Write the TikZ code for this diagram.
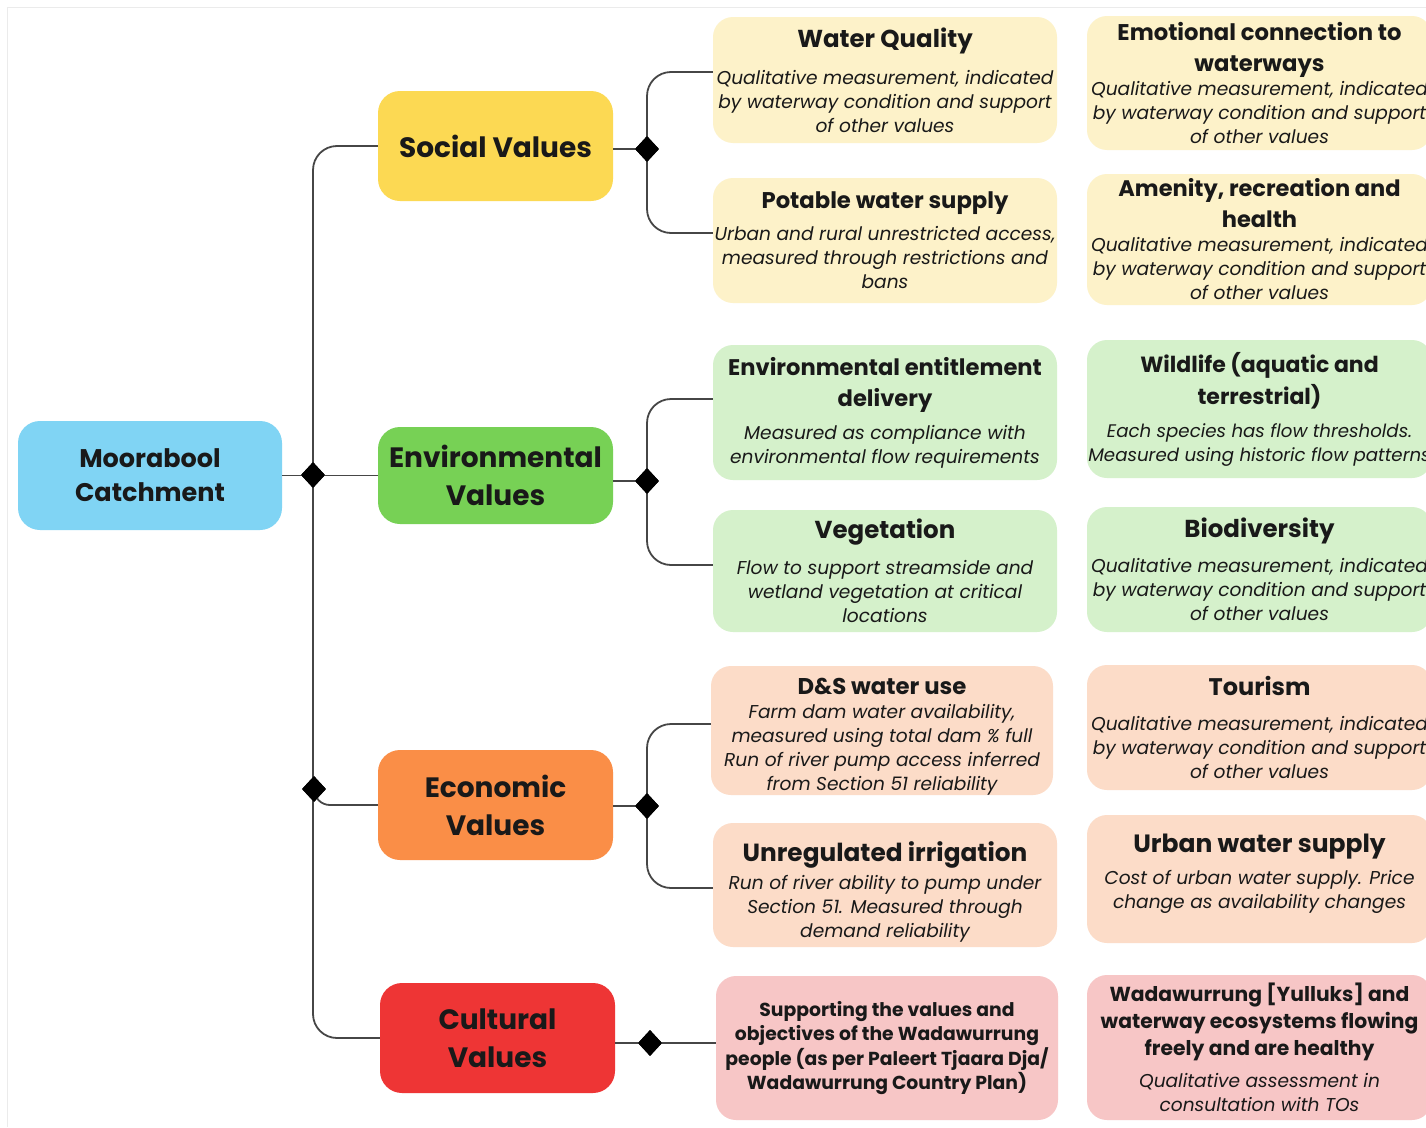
\documentclass[tikz,border=0pt]{standalone}
\usepackage{fontspec}
\setmainfont{Poppins}
\usetikzlibrary{shapes.geometric}

\definecolor{rootblue}{RGB}{128,212,244}
\definecolor{socfill}{RGB}{252,217,83}
\definecolor{envfill}{RGB}{119,209,85}
\definecolor{ecofill}{RGB}{250,142,71}
\definecolor{culfill}{RGB}{238,53,53}
\definecolor{soclight}{RGB}{253,242,201}
\definecolor{envlight}{RGB}{213,241,203}
\definecolor{ecolight}{RGB}{252,220,200}
\definecolor{cullight}{RGB}{247,198,198}
\definecolor{wire}{RGB}{70,70,70}
\definecolor{ink}{RGB}{25,25,25}
\definecolor{frameline}{RGB}{235,235,235}

% title line inside a detail box (optional size)
\newcommand\hdr[2][23]{{\fontsize{#1}{24}\selectfont\bfseries\upshape #2}}

\begin{document}
\begin{tikzpicture}[x=1pt,y=-1pt,
  every node/.style={text=ink},
  mainbox/.style={rounded corners=22pt, inner sep=0pt, align=center,
    minimum width=235pt, minimum height=110pt,
    font=\fontsize{28}{38}\selectfont\bfseries},
  detail/.style={rounded corners=20pt, inner sep=0pt, align=center,
    minimum width=344pt, font=\fontsize{18.6}{24}\selectfont\itshape},
  wire/.style={draw=wire, line width=1.8pt, rounded corners=24pt},
  joint/.style={diamond, fill=black, inner sep=0pt, minimum width=24pt, minimum height=26pt}
]
\useasboundingbox (0,0) rectangle (1426,1127);
\clip (0,0) rectangle (1426,1127);
\fill[white] (0,0) rectangle (1426,1127);
\draw[frameline, line width=1pt] (7,1127) -- (7,7) -- (1426,7);

% ---- root and value categories
\node[mainbox, fill=rootblue, minimum width=264pt, minimum height=109pt,
  font=\fontsize{25.5}{34}\selectfont\bfseries] (root) at (150,475.5) {Moorabool\\Catchment};
\node[mainbox, fill=socfill] (soc) at (495.5,146) {Social Values};
\node[mainbox, fill=envfill, minimum height=97pt] (env) at (495.5,475.5) {Environmental\\Values};
\node[mainbox, fill=ecofill] (eco) at (495.5,805) {Economic\\Values};
\node[mainbox, fill=culfill] (cul) at (497.5,1038) {Cultural\\Values};

% ---- social details
\node[detail, fill=soclight, minimum height=126pt] (wq) at (885,80)
  {\hdr[24.5]{Water Quality}\\[13pt]Qualitative measurement, indicated\\by waterway condition and support\\of other values};
\node[detail, fill=soclight, minimum height=125pt] (pot) at (885,240.5)
  {\hdr[22.7]{Potable water supply}\\[8pt]Urban and rural unrestricted access,\\measured through restrictions and\\bans};
\node[detail, fill=soclight, minimum width=345pt, minimum height=134pt] (emo) at (1259.5,83)
  {\hdr[22.7]{Emotional connection to}\\[7pt]\hdr[22.7]{waterways}\\Qualitative measurement, indicated\\by waterway condition and support\\of other values};
\node[detail, fill=soclight, minimum width=345pt, minimum height=131pt] (ame) at (1259.5,239.5)
  {\hdr[22.5]{Amenity, recreation and}\\[7pt]\hdr[22.5]{health}\\Qualitative measurement, indicated\\by waterway condition and support\\of other values};

% ---- environmental details
\node[detail, fill=envlight, minimum height=135pt] (ent) at (885,412.5)
  {\hdr[22.6]{Environmental entitlement}\\[7pt]\hdr[22.6]{delivery}\\[9pt]Measured as compliance with\\environmental flow requirements};
\node[detail, fill=envlight, minimum height=122pt] (veg) at (885,571)
  {\hdr[24.5]{Vegetation}\\[12pt]Flow to support streamside and\\wetland vegetation at critical\\locations};
\node[detail, fill=envlight, minimum width=345pt, minimum height=138pt,
  font=\fontsize{18.2}{24}\selectfont\itshape] (wil) at (1259.5,409)
  {\hdr[22]{Wildlife (aquatic and}\\[5pt]\hdr[22]{terrestrial)}\\[9pt]Each species has flow thresholds.\\Measured using historic flow patterns};
\node[detail, fill=envlight, minimum width=345pt, minimum height=125pt] (bio) at (1259.5,569.5)
  {\hdr[24.5]{Biodiversity}\\[11pt]Qualitative measurement, indicated\\by waterway condition and support\\of other values};

% ---- economic details
\node[detail, fill=ecolight, minimum width=342pt, minimum height=129pt] (dsw) at (882,730.5)
  {\rule{0pt}{28pt}\hdr[22.8]{D\&S water use}\\[0pt]Farm dam water availability,\\measured using total dam \% full\\Run of river pump access inferred\\from Section 51 reliability};
\node[detail, fill=ecolight, minimum height=124pt] (unr) at (885,885)
  {\rule{0pt}{34pt}\hdr[24.8]{Unregulated irrigation}\\[4pt]Run of river ability to pump under\\Section 51. Measured through\\demand reliability};
\node[detail, fill=ecolight, minimum width=345pt, minimum height=125pt] (tou) at (1259.5,727.5)
  {\hdr[24]{Tourism}\\[11pt]Qualitative measurement, indicated\\by waterway condition and support\\of other values};
\node[detail, fill=ecolight, minimum width=345pt, minimum height=128pt] (urb) at (1259.5,879)
  {\hdr[25]{Urban water supply}\\[8pt]Cost of urban water supply. Price\\change as availability changes\\[-8pt]\mbox{}};

% ---- cultural details
\node[detail, fill=cullight, minimum width=342pt, minimum height=144pt,
  font=\fontsize{18.8}{24.5}\selectfont\bfseries] (sup) at (887,1048)
  {Supporting the values and\\objectives of the Wadawurrung\\people (as per Paleert Tjaara Dja/\\Wadawurrung Country Plan)};
\node[detail, fill=cullight, minimum width=345pt, minimum height=145pt] (wad) at (1259.5,1047.5)
  {\hdr[20.3]{Wadawurrung [Yulluks] and}\\[3pt]\hdr[20.3]{waterway ecosystems flowing}\\[3pt]\hdr[20.3]{freely and are healthy}\\[8pt]Qualitative assessment in\\consultation with TOs};

% ---- junction markers (positions)
\node[joint] (jroot) at (313,475) {};
\node[joint] (jeco) at (314,789) {};
\node[joint] (jsoc) at (647,149) {};
\node[joint] (jenv) at (647,481) {};
\node[joint] (jecd) at (647,806) {};
\node[joint] (jcul) at (650,1043) {};

% ---- trunk connectors
\draw[wire] (soc.west) -| (jroot.center) |- (cul.west);
\draw[wire] (root.east) -- (env.west);
\draw[wire, rounded corners=16pt] (jeco.center) |- (eco.west);

% ---- branch connectors
\draw[wire] (jsoc -| soc.east) -- (jsoc.center);
\draw[wire] ([yshift=8pt]wq.west) -| (jsoc.center) |- ([yshift=7.5pt]pot.west);
\draw[wire] (jenv -| env.east) -- (jenv.center);
\draw[wire] ([yshift=13.5pt]ent.west) -| (jenv.center) |- ([yshift=6pt]veg.west);
\draw[wire] (jecd -| eco.east) -- (jecd.center);
\draw[wire] ([yshift=6.5pt]dsw.west) -| (jecd.center) |- ([yshift=-3pt]unr.west);
\draw[wire] (jcul -| cul.east) -- (jcul -| sup.west);

% markers drawn again over the wires
\node[joint] at (jroot) {};
\node[joint] at (jeco) {};
\node[joint] at (jsoc) {};
\node[joint] at (jenv) {};
\node[joint] at (jecd) {};
\node[joint] at (jcul) {};
\end{tikzpicture}
\end{document}
